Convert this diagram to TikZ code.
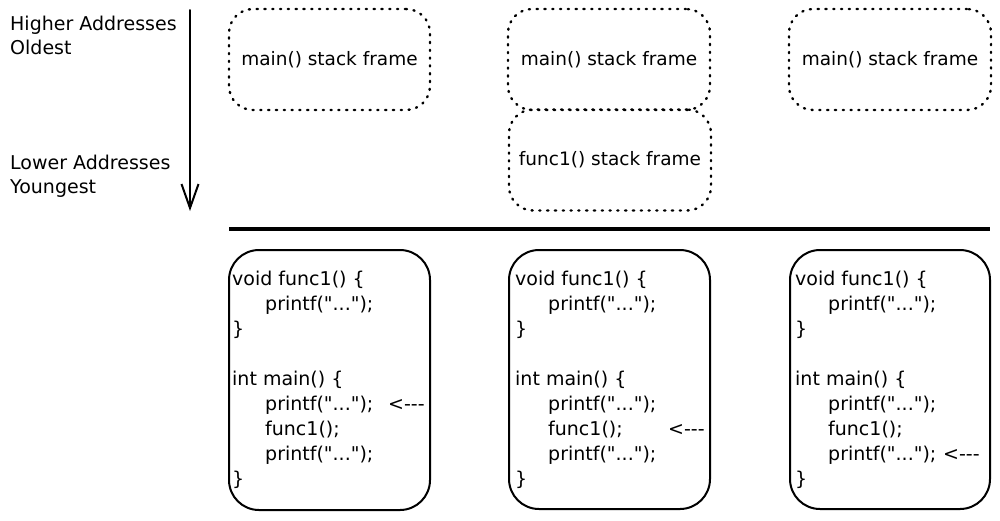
\documentclass[tikz,border=0pt]{standalone}
\usepackage{fontspec}
\setmainfont{DejaVu Sans}[Ligatures=TeXOff]
\usetikzlibrary{arrows.meta}
\begin{document}
\begin{tikzpicture}[x=1pt,y=-1pt,
  dotbox/.style={draw, line width=2.4pt, dash pattern=on 1.2pt off 6.6pt, line cap=round,
    rounded corners=24pt, inner sep=0pt, minimum height=101pt,
    font=\fontsize{18.5}{22}\selectfont},
  codebox/.style={draw, line width=2pt, rounded corners=30pt, inner sep=0pt},
  codeline/.style={anchor=base west, inner sep=0pt, font=\fontsize{19}{25}\selectfont},
  lbl/.style={anchor=base west, inner sep=0pt, font=\fontsize{19}{23}\selectfont}]
\useasboundingbox (0,0) rectangle (1000,520);

% left labels
\node[lbl] (hi) at (10,30) {Higher Addresses};
\node[lbl] (old) at (10,54) {Oldest};
\node[lbl] (lo) at (10,169) {Lower Addresses};
\node[lbl] (young) at (10,193) {Youngest};

% direction arrow
\coordinate (atop) at (190,10);
\coordinate (abot) at (190,211);
\draw[line width=2pt, line cap=round, -{Straight Barb[length=24pt,width=17pt,line width=2pt]}] (atop) -- (abot);

% stack frames
\node[dotbox, minimum width=201pt] (m1) at (329.5,59.5) {main() stack frame};
\node[dotbox, minimum width=202pt] (m2) at (609,59.5) {main() stack frame};
\node[dotbox, minimum width=202pt] (f2) at (610,160) {func1() stack frame};
\node[dotbox, minimum width=202pt] (m3) at (890,59.5) {main() stack frame};

% separator
\coordinate (sl) at (229,229);
\coordinate (sr) at (990,229);
\draw[line width=3.5pt] (sl) -- (sr);

% code boxes
\node[codebox, minimum width=201pt, minimum height=260pt] (cb1) at (329.5,380) {};
\node[codebox, minimum width=201pt, minimum height=259pt] (cb2) at (609.5,379.5) {};
\node[codebox, minimum width=200pt, minimum height=259pt] (cb3) at (890,379.5) {};

\foreach \b/\x in {1/232, 2/515, 3/795} {
  \foreach \i/\ind/\t in {1/0/{void func1() \{}, 2/33/{printf("...");}, 3/0/{\}},
      5/0/{int main() \{}, 6/33/{printf("...");}, 7/33/{func1();},
      8/33/{printf("...");}, 9/0/{\}}} {
    \node[codeline] (c\b-\i) at (\x+\ind, 285+25*\i-25) {\t};
  }
}

% current-line markers
\node[codeline] (p1) at (388,410) {<-{}-{}-};
\node[codeline] (p2) at (668,435) {<-{}-{}-};
\node[codeline] (p3) at (943,460) {<-{}-{}-};
\end{tikzpicture}
\end{document}
